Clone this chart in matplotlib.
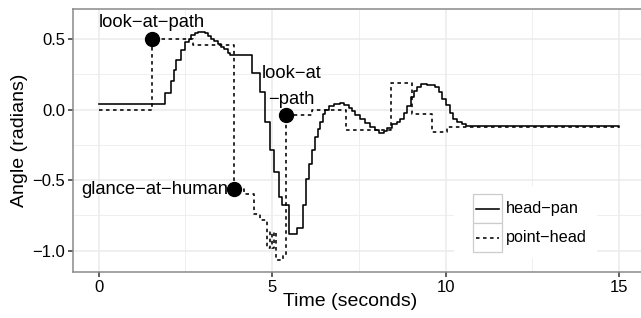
import matplotlib
matplotlib.use('Agg')
import matplotlib.pyplot as plt
from matplotlib.patches import Rectangle
from matplotlib.lines import Line2D

# ---- data ----
head_t = [0, 1.90, 2.07, 2.17, 2.235, 2.36, 2.50, 2.60, 2.667, 2.763, 2.858, 3.05, 3.146, 3.242,
          3.338, 3.434, 3.53, 3.626, 3.72, 3.78, 4.42, 4.64, 4.806, 4.95, 5.045, 5.189, 5.285,
          5.477, 5.717, 5.88, 5.976, 6.053, 6.149, 6.245, 6.312, 6.389, 6.456, 6.532, 6.628,
          6.772, 6.964, 7.079, 7.204, 7.30, 7.396, 7.54, 7.683, 7.827, 7.971, 8.067, 8.211,
          8.326, 8.451, 8.595, 8.69, 8.806, 8.902, 8.998, 9.094, 9.19, 9.285, 9.477, 9.698,
          9.813, 9.909, 10.005, 10.13, 10.225, 10.32, 10.465, 10.59, 15]
head_y = [0.04, 0.118, 0.207, 0.278, 0.349, 0.42, 0.479, 0.502, 0.531, 0.545, 0.552, 0.545, 0.526,
          0.502, 0.486, 0.467, 0.448, 0.427, 0.403, 0.389, 0.259, 0.125, -0.088, -0.288, -0.441,
          -0.618, -0.677, -0.878, -0.842, -0.677, -0.488, -0.382, -0.288, -0.194, -0.135, -0.088,
          -0.029, -0.005, 0.023, 0.040, 0.047, 0.035, 0.012, -0.012, -0.036, -0.064, -0.095,
          -0.123, -0.146, -0.163, -0.154, -0.130, -0.104, -0.088, -0.064, -0.022, 0.026, 0.089,
          0.130, 0.160, 0.179, 0.177, 0.160, 0.125, 0.078, 0.030, -0.022, -0.064, -0.088, -0.102,
          -0.116, -0.12]

point_t = [0, 1.53, 2.71, 3.91, 4.20, 4.49, 4.65, 4.85, 4.93, 5.00, 5.05, 5.10, 5.32, 5.39,
           6.15, 7.14, 8.43, 9.02, 9.62, 10.03, 15]
point_y = [0.0, 0.50, 0.46, -0.565, -0.60, -0.74, -0.78, -0.98, -0.87, -0.98, -0.87, -1.065,
           -1.03, -0.035, 0.0, -0.146, 0.188, -0.03, -0.158, -0.123, -0.123]

event_t = [1.53, 3.91, 5.39]
event_y = [0.50, -0.565, -0.035]
event_labels = ["look\u2212at\u2212path", "glance\u2212at\u2212human", "look\u2212at\n\u2212path"]

series_names = ["head\u2212pan", "point\u2212head"]
x_ticks = [0, 5, 10, 15]
y_ticks = [-1.0, -0.5, 0.0, 0.5]
x_minor = [2.5, 7.5, 12.5]
y_minor = [-0.75, -0.25, 0.25]

# ---- figure ----
plt.rcParams['font.family'] = ['Liberation Sans', 'DejaVu Sans']
W, H = 641, 318
fig = plt.figure(figsize=(W / 100, H / 100), dpi=100)

def fx(px):
    return px / W

def fy(py):
    return 1 - py / H

ax = fig.add_axes([fx(72.7), fy(272), fx(645) - fx(72.7), fy(9.3) - fy(272)])
ax.set_xlim(-0.75, 15.75)
ax.set_ylim(-1.151, 0.712)

grid_c = '#EBEBEB'
for v in x_ticks:
    ax.axvline(v, color=grid_c, lw=1.1, zorder=0)
for v in x_minor:
    ax.axvline(v, color=grid_c, lw=0.55, zorder=0)
for v in y_ticks:
    ax.axhline(v, color=grid_c, lw=1.1, zorder=0)
for v in y_minor:
    ax.axhline(v, color=grid_c, lw=0.55, zorder=0)

ax.step(head_t, head_y, where='post', color='black', lw=1.15, zorder=3)
ax.step(point_t, point_y, where='post', color='black', lw=1.15,
        linestyle=(0, (2.2, 2.2)), zorder=3)
ax.plot(event_t, event_y, 'o', color='black', ms=10, zorder=4)

fs_ann = 13.2
# annotation labels (positions relative to their events)
ax.text(event_t[0], event_y[0] + 0.085, event_labels[0], ha='center', va='baseline', fontsize=fs_ann)
ax.text(event_t[1] - 0.17, event_y[1] - 0.03, event_labels[1], ha='right', va='baseline', fontsize=fs_ann)
l1, l2 = event_labels[2].split('\n')
ax.text(event_t[2] + 0.16, event_y[2] + 0.259, l1, ha='center', va='baseline', fontsize=fs_ann)
ax.text(event_t[2] + 0.16, event_y[2] + 0.077, l2, ha='center', va='baseline', fontsize=fs_ann)

for s in ['left', 'bottom', 'top', 'right']:
    ax.spines[s].set_color('#8a8a8a')
    ax.spines[s].set_linewidth(1.1)

ax.set_xticks(x_ticks)
ax.set_yticks(y_ticks)
ax.set_xticklabels([str(v) for v in x_ticks])
ax.set_yticklabels([f"{v:.1f}".replace('-', '\u2212') for v in y_ticks])
ax.tick_params(axis='both', length=3.5, width=1.1, color='#333333', labelsize=12,
               labelcolor='black', pad=2)

fig.text(fx(350.5), fy(302), "Time (seconds)", ha='center', va='center', fontsize=14)
fig.text(fx(20), fy(140.6), "Angle (radians)", ha='center', va='center', rotation=90, fontsize=14)

# legend
fig.add_artist(Rectangle((fx(454), fy(258)), fx(597) - fx(454), fy(186) - fy(258),
                         transform=fig.transFigure, facecolor='white', edgecolor='none', zorder=5))
styles = ['-', (0, (2.2, 2.2))]
key_tops = [194, 222.7]
for i, name in enumerate(series_names):
    top = key_tops[i]
    fig.add_artist(Rectangle((fx(472.7), fy(top + 29)), fx(501.7) - fx(472.7), fy(top) - fy(top + 29),
                             transform=fig.transFigure, facecolor='white', edgecolor='#CCCCCC',
                             lw=0.9, zorder=6))
    cy = top + 14.8
    fig.add_artist(Line2D([fx(476), fx(499)], [fy(cy), fy(cy)], transform=fig.transFigure,
                          color='black', lw=1.15, linestyle=styles[i], zorder=7))
    fig.text(fx(506), fy(cy), name, ha='left', va='center', fontsize=11.7, zorder=7)

fig.savefig('out.png', dpi=100)
